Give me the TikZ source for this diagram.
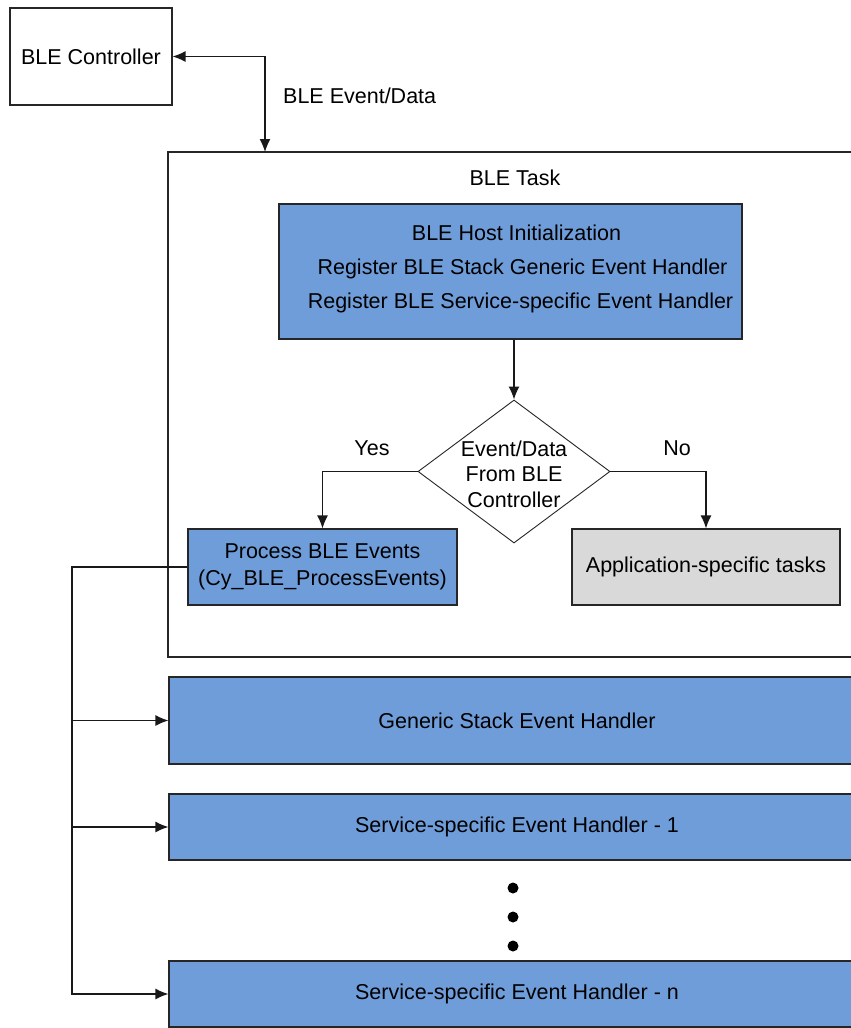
\documentclass[tikz,border=0pt]{standalone}
\usepackage{fontspec}
\setmainfont{Liberation Sans}
\usetikzlibrary{arrows.meta,positioning,shapes.geometric}
\definecolor{boxblue}{RGB}{111,157,218}
\definecolor{boxgrey}{RGB}{217,217,217}

\begin{document}
\begin{tikzpicture}[x=1pt, y=-1pt,
    plain_box/.style={draw=black!85, line width=1.1pt, fill=white, inner sep=0pt},
    blue_box/.style={plain_box, fill=boxblue, align=center},
    grey_box/.style={plain_box, fill=boxgrey, align=center},
    choice/.style={diamond, draw=black!85, line width=0.9pt, fill=white, inner sep=0pt},
    flow/.style={line width=1.3pt, black!90},
    txt/.style={inner sep=0pt, align=center},
    >={Latex[length=13pt,width=11pt]},
    every node/.style={font=\fontsize{21.5}{25.5}\selectfont}
  ]
  \clip (0,0) rectangle (851,1028);

  % --- Controller and task frame ---
  \node[plain_box, minimum width=162, minimum height=97] (ctrl) at (91,56.5) {BLE Controller};
  \node[plain_box, minimum width=697, minimum height=505] (task) at (516.5,404.5) {};
  \node[txt] (tasktitle) at (515,178) {BLE Task};
  \coordinate (tasktop) at (265,152);

  % --- Inside the task ---
  \node[blue_box, minimum width=463, minimum height=135] (init) at (510.5,271.5) {};
  \node[txt, font=\fontsize{21.5}{34}\selectfont] (inittext) at (510.5,269)
    {\hspace*{12pt}BLE Host Initialization\\
     \hspace*{24pt}Register BLE Stack Generic Event Handler\\
     \hspace*{20pt}Register BLE Service-specific Event Handler};
  \node[choice, minimum width=192, minimum height=143] (check) at (514,471.5) {};
  \node[txt, font=\fontsize{21.5}{25.5}\selectfont] (checktext) at (514,474) {Event/Data\\From BLE\\Controller};
  \node[blue_box, minimum width=269, minimum height=76,
    font=\fontsize{21.5}{27}\selectfont] (proc) at (322.5,567)
    {Process BLE Events\\(Cy\_BLE\_ProcessEvents)};
  \node[grey_box, minimum width=268, minimum height=76] (app) at (706,567) {Application-specific tasks};

  % --- Handlers ---
  \node[blue_box, minimum width=696, minimum height=87] (gen) at (517,720.5) {Generic Stack Event Handler};
  \node[blue_box, minimum width=696, minimum height=66] (hone) at (517,827) {Service-specific Event Handler - 1};
  \node[blue_box, minimum width=696, minimum height=66] (hlast) at (517,994) {Service-specific Event Handler - n};
  \foreach \y in {888,917,946}
    \fill (513,\y) circle (5.5pt);

  % --- Connectors ---
  \draw[flow, <->] (ctrl.east) -| (tasktop);
  \node[txt, anchor=west] (evlbl) at (283,96) {BLE Event/Data};
  \draw[flow, ->] (init.south -| check.north) -- (check.north);
  \draw[flow, ->] (check.west) -| (proc.north);
  \draw[flow, ->] (check.east) -| (app.north);
  \node[txt] (yes) at (372,448) {Yes};
  \node[txt] (no) at (677,448) {No};

  \coordinate (bus) at (72,567);
  \draw[flow, ->] (proc.west) -- (bus) |- (hlast.west);
  \draw[flow, ->] (bus |- gen.west) -- (gen.west);
  \draw[flow, ->] (bus |- hone.west) -- (hone.west);
\end{tikzpicture}
\end{document}
